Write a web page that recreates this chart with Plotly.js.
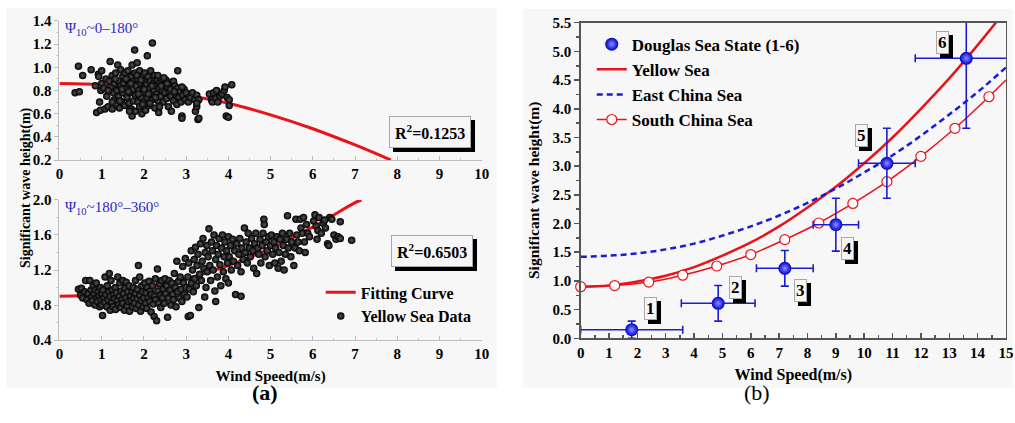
<!DOCTYPE html>
<html>
<head>
<meta charset="utf-8">
<script src="https://cdn.plot.ly/plotly-3.0.1.min.js"></script>
<style>html,body{margin:0;padding:0;background:#fff;}#chart{width:1015px;height:423px;}</style>
</head>
<body>
<div id="chart"></div>
<script>
// ---------- DATA ----------
// (a) top: Psi10 ~ 0-180 deg, Yellow Sea data [wind speed, Hs]
const topData = [
[0.37,0.78],[0.47,0.79],[0.45,1.01],[0.55,0.93],[0.75,0.98],
[0.85,0.84],[0.88,0.61],[0.92,0.94],[0.95,0.70],[0.97,0.63],[1.0,0.86],[1.0,0.97],[0.98,0.80],[0.93,0.92],
[1.05,0.82],[1.08,0.64],[1.1,0.90],[1.12,0.75],[1.15,0.66],[1.18,0.88],[1.2,1.05],[1.22,0.83],[1.25,0.64],[1.25,0.93],
[1.28,0.78],[1.3,0.86],[1.3,0.72],[1.33,0.95],[1.35,0.68],[1.36,0.80],[1.38,1.02],[1.4,0.88],[1.4,0.75],[1.42,0.65],
[1.45,0.98],[1.45,0.84],[1.47,0.70],[1.5,0.92],[1.5,0.78],[1.52,0.86],
[1.55,0.67],[1.55,0.95],[1.58,0.82],[1.6,0.74],[1.6,0.89],[1.62,0.97],[1.65,0.69],[1.65,0.85],[1.68,0.78],[1.7,0.92],
[1.7,0.64],[1.72,0.58],[1.72,1.02],[1.74,0.81],[1.75,0.71],[1.76,0.88],[1.78,1.15],[1.78,0.95],[1.8,0.76],[1.8,0.62],
[1.82,0.84],[1.84,1.04],[1.85,0.90],[1.86,0.70],[1.88,0.80],[1.9,0.97],[1.9,0.66],[1.92,0.86],[1.94,0.74],[1.95,0.60],
[1.96,0.92],[1.98,0.82],
[2.0,0.70],[2.0,0.88],[2.02,0.95],[2.04,0.63],[2.05,0.78],[2.06,0.85],[2.08,1.10],[2.08,0.74],[2.1,0.92],[2.12,0.67],
[2.13,0.82],[2.15,0.88],[2.16,0.97],[2.18,0.76],[2.2,1.21],[2.2,0.72],[2.22,0.86],[2.24,0.80],[2.25,0.93],[2.26,0.65],
[2.28,0.84],[2.3,0.77],[2.32,0.89],[2.34,0.71],[2.35,0.61],[2.36,0.82],[2.38,0.87],[2.4,0.75],[2.42,0.90],[2.44,0.80],
[2.46,0.70],[2.48,0.85],[2.5,0.78],
[2.52,0.89],[2.54,0.73],[2.56,0.83],[2.58,0.66],[2.6,0.79],[2.62,0.87],[2.64,0.75],[2.65,0.62],[2.67,0.81],[2.7,0.88],
[2.7,0.71],[2.73,0.84],[2.75,0.77],[2.78,0.68],[2.8,0.97],[2.8,0.82],[2.83,0.74],[2.85,0.79],[2.88,0.70],[2.9,0.58],
[2.9,0.56],[2.92,0.76],[2.95,0.81],[2.98,0.72],[3.0,0.78],
[3.05,0.70],[3.1,0.74],[3.15,0.78],[3.2,0.72],[3.22,0.62],[3.25,0.66],[3.25,0.76],[3.28,0.55],[3.3,0.56],[3.3,0.72],[3.25,0.69],
[3.55,0.77],[3.6,0.72],[3.62,0.70],[3.65,0.78],[3.7,0.73],[3.72,0.80],[3.75,0.70],[3.8,0.75],[3.85,0.77],[3.9,0.80],
[3.92,0.83],[3.95,0.58],[3.97,0.74],[4.0,0.57],[4.02,0.67],[4.02,0.72],[4.08,0.85],
[1.15,0.80],[1.32,0.90],[1.48,0.81],[1.58,0.90],[1.63,0.79],[1.69,0.86],[1.83,0.93],[1.87,0.77],[1.93,0.89],[2.01,0.81],
[2.11,0.77],[2.19,0.84],[2.27,0.74],[2.33,0.93],[2.41,0.84],[2.47,0.91],[2.55,0.86],[2.63,0.81],[2.72,0.79],[2.9,0.83],
[1.43,0.71],[1.66,0.62],[1.97,0.68],[2.14,0.69],[2.37,0.66],[1.25,0.70]
];
// (a) bottom: Psi10 ~ 180-360 deg
const botData = [
[0.45,0.98],[0.5,0.91],[0.52,0.99],[0.55,0.88],[0.6,0.95],[0.62,1.08],[0.65,0.86],[0.68,0.93],[0.7,0.82],[0.72,1.08],
[0.75,0.97],[0.76,0.89],[0.78,0.85],[0.8,1.02],[0.82,0.93],[0.84,0.80],[0.85,0.97],[0.87,1.05],[0.88,0.88],[0.9,0.84],
[0.92,0.95],[0.94,0.90],[0.95,0.78],[0.97,1.0],[0.98,0.86],[1.0,0.93],[1.0,0.80],
[1.02,0.68],[1.03,0.97],[1.05,0.88],[1.07,0.83],[1.08,1.12],[1.1,0.92],[1.12,0.78],[1.13,1.02],[1.15,0.86],[1.17,0.95],
[1.18,1.16],[1.2,0.74],[1.2,0.90],[1.22,1.08],[1.24,0.83],[1.25,0.97],[1.27,0.78],[1.28,0.92],[1.3,0.87],[1.32,1.0],
[1.33,0.75],[1.35,0.94],[1.37,0.85],[1.38,1.12],[1.4,0.80],[1.42,0.90],[1.43,1.05],[1.45,0.77],[1.46,0.96],[1.48,0.86],
[1.5,1.08],[1.5,0.82],[1.52,0.93],[1.54,0.74],[1.55,0.99],[1.57,0.88],[1.58,1.06],[1.6,0.79],[1.62,0.95],[1.63,0.84],
[1.65,1.02],[1.66,0.73],[1.68,0.90],[1.7,0.85],[1.72,0.96],[1.73,0.78],[1.75,1.0],[1.76,0.88],[1.78,0.82],[1.8,0.93],
[1.8,1.08],[1.82,0.76],[1.84,0.87],[1.85,0.98],[1.87,1.25],[1.88,0.80],[1.9,0.91],[1.9,1.12],[1.92,0.73],[1.94,0.85],
[1.95,1.02],[1.97,0.95],[1.98,0.78],[2.0,0.88],
[2.02,1.05],[2.04,0.82],[2.05,0.94],[2.07,0.76],[2.08,1.0],[2.1,0.88],[2.12,1.07],[2.14,0.84],[2.15,0.96],[2.17,0.72],
[2.18,0.92],[2.2,1.02],[2.22,0.81],[2.24,0.67],[2.25,0.90],[2.27,1.1],[2.28,0.86],[2.3,0.62],[2.32,1.21],[2.33,0.96],
[2.35,0.82],[2.37,1.04],[2.39,0.91],[2.4,0.77],[2.42,1.08],[2.44,0.88],[2.46,0.98],[2.48,0.82],[2.5,1.1],[2.52,0.93],
[2.54,1.02],[2.56,0.66],[2.58,0.88],[2.6,1.08],[2.62,0.97],[2.64,0.80],[2.66,1.05],[2.68,0.92],[2.7,0.86],[2.72,1.16],
[2.74,1.0],[2.76,0.78],[2.78,1.3],[2.8,0.95],[2.82,1.07],[2.84,0.88],[2.86,1.12],[2.88,0.98],[2.9,0.84],[2.92,1.24],
[2.94,1.05],[2.96,0.92],[2.98,1.33],[3.0,1.0],
[3.02,0.89],[3.04,1.12],[3.05,0.67],[3.06,1.28],[3.08,0.98],[3.1,0.68],[3.12,1.42],[3.13,1.05],[3.15,1.2],[3.17,0.95],
[3.19,1.32],[3.2,1.1],[3.22,1.46],[3.24,1.02],[3.26,1.25],[3.28,1.38],[3.3,0.77],[3.32,1.15],[3.34,1.5],[3.36,1.08],
[3.38,1.3],[3.4,1.56],[3.42,1.22],[3.44,0.89],[3.45,1.4],[3.47,1.0],[3.49,1.48],[3.5,1.18],[3.52,1.35],[3.54,1.67],
[3.56,1.25],[3.58,1.08],[3.6,1.52],[3.62,1.42],[3.64,1.2],[3.66,1.6],[3.68,0.96],[3.7,1.32],[3.7,0.84],[3.72,1.48],
[3.74,1.12],[3.76,1.38],[3.78,1.56],[3.8,1.26],[3.82,1.02],[3.84,1.45],[3.86,1.6],[3.88,1.18],[3.9,1.35],[3.92,1.52],
[3.94,1.1],[3.96,1.42],[3.98,1.28],[4.0,1.58],[4.0,1.05],
[4.02,1.35],[4.05,1.48],[4.07,1.2],[4.1,1.55],[4.12,1.3],[4.15,1.42],[4.17,0.92],[4.2,1.5],[4.22,1.25],[4.25,1.38],
[4.27,1.56],[4.3,0.9],[4.3,1.18],[4.32,1.45],[4.35,1.32],[4.38,1.68],[4.4,1.4],[4.42,1.52],[4.45,1.28],[4.47,1.62],
[4.5,1.45],[4.52,1.35],[4.55,1.56],[4.58,1.42],[4.6,1.22],[4.62,1.5],[4.65,1.62],[4.67,1.16],[4.7,1.45],[4.72,1.38],
[4.75,1.55],[4.77,1.28],[4.8,1.48],[4.82,1.62],[4.84,1.78],[4.85,1.72],[4.87,1.35],[4.9,1.52],[4.92,1.42],[4.95,1.58],
[4.97,1.25],[5.0,1.48],
[5.02,1.6],[5.05,1.38],[5.08,1.52],[5.1,1.28],[5.12,1.45],[5.15,1.58],[5.18,1.22],[5.2,1.4],[5.22,1.55],[5.25,1.3],
[5.28,1.62],[5.3,1.48],[5.32,1.2],[5.35,1.38],[5.38,1.55],[5.4,1.82],[5.42,1.45],[5.45,1.62],[5.48,1.35],[5.5,1.52],
[5.55,1.25],[5.58,1.45],[5.6,1.78],[5.62,1.6],[5.65,1.52],[5.68,1.42],[5.7,1.78],[5.72,1.68],[5.75,1.62],[5.78,1.8],
[5.8,1.52],[5.82,1.4],[5.85,1.72],[5.88,1.62],[5.92,1.58],
[6.02,1.76],[6.05,1.83],[6.08,1.7],[6.1,1.55],[6.12,1.65],[6.15,1.8],[6.2,1.62],[6.25,1.73],[6.3,1.68],[6.35,1.5],
[6.38,1.48],[6.4,1.8],[6.45,1.78],[6.5,1.6],[6.55,1.55],[6.6,1.58],[6.65,1.75],[6.65,1.56],[6.92,1.54],[6.28,1.77]
];
// fitting curves (a)
const fitTopX = [0,1,2,3,4,5,6,7,7.85];
const fitTopY = [0.86,0.85,0.82,0.76,0.69,0.59,0.47,0.33,0.2];
const fitBotX = [0,1,2,3,4,5,6,7,7.15];
const fitBotY = [0.90,0.92,0.99,1.10,1.25,1.45,1.69,1.97,2.0];
const r2Top = "0.1253", r2Bot = "0.6503";

// (b)
const curveX = [0,1,2,3,4,5,6,7,8,9,10,11,12,13,14,15];
const yellowSea = [0.90,0.92,0.99,1.09,1.24,1.44,1.67,1.95,2.28,2.64,3.05,3.50,4.00,4.53,5.11,5.72];
const eastChinaSea = [1.42,1.44,1.48,1.55,1.65,1.79,1.95,2.14,2.36,2.61,2.89,3.19,3.53,3.90,4.29,4.72];
const southX = [0,1.2,2.4,3.6,4.8,6.0,7.2,8.4,9.6,10.8,12.0,13.2,14.4];
const southY = [0.90,0.92,0.98,1.10,1.26,1.46,1.72,2.01,2.35,2.73,3.17,3.66,4.21];
const southEndX = [14.4,15], southEndY = [4.21,4.50];
const douglasState = ["1","2","3","4","5","6"];
const douglasX = [1.8,4.85,7.2,9.0,10.8,13.6];
const douglasY = [0.15,0.61,1.22,1.98,3.05,4.88];
const douglasXErr = [1.8,1.3,1.0,0.8,1.0,1.8];
const douglasYErr = [0.15,0.31,0.31,0.46,0.61,1.22];
const labelX = [2.48,5.45,7.74,9.41,9.89,12.77];
const labelY = [0.52,0.89,0.84,1.57,3.53,5.16];

// ---------- STYLE ----------
const SERIF = '"Liberation Serif","Times New Roman",serif';
const RED = '#e8141b', BLUE = '#1c1cd6';
const tickFont = {family: SERIF, size: 15, color: '#000', weight: 700};
const BOLD = {tickprefix: '<b>', ticksuffix: '</b>'};

const traces = [];
// top-left
traces.push({x: fitTopX, y: fitTopY, xaxis: 'x', yaxis: 'y', mode: 'lines', line: {color: RED, width: 3, shape: 'spline'}, showlegend: false, hoverinfo: 'skip'});
traces.push({x: topData.map(d => d[0]), y: topData.map(d => d[1]), xaxis: 'x', yaxis: 'y', mode: 'markers', type: 'scatter',
  marker: {color: '#000', size: 7.5, gradient: {type: 'radial', color: '#575757'}, line: {width: 0}}, showlegend: false});
// bottom-left
traces.push({x: fitBotX, y: fitBotY, xaxis: 'x2', yaxis: 'y2', mode: 'lines', name: 'Fitting Curve', legend: 'legend2', legendrank: 1,
  line: {color: RED, width: 3, shape: 'spline'}});
traces.push({x: botData.map(d => d[0]), y: botData.map(d => d[1]), xaxis: 'x2', yaxis: 'y2', mode: 'markers', name: 'Yellow Sea Data', legend: 'legend2', legendrank: 2,
  marker: {color: '#000', size: 7.5, gradient: {type: 'radial', color: '#575757'}, line: {width: 0}}});
// right
traces.push({x: curveX, y: yellowSea, xaxis: 'x3', yaxis: 'y3', mode: 'lines', name: 'Yellow Sea', legendrank: 2,
  line: {color: RED, width: 2.5, shape: 'spline'}});
traces.push({x: curveX, y: eastChinaSea, xaxis: 'x3', yaxis: 'y3', mode: 'lines', name: 'East China Sea', legendrank: 3,
  line: {color: BLUE, width: 2.5, dash: '6px,4px', shape: 'spline'}});
traces.push({x: southEndX, y: southEndY, xaxis: 'x3', yaxis: 'y3', mode: 'lines', showlegend: false,
  line: {color: RED, width: 1.5}});
traces.push({x: southX, y: southY, xaxis: 'x3', yaxis: 'y3', mode: 'lines+markers', name: 'South China Sea', legendrank: 4, cliponaxis: false,
  line: {color: RED, width: 1.5, shape: 'spline'}, marker: {symbol: 'circle', size: 10, color: '#fff', line: {color: RED, width: 1.2}}});
traces.push({x: douglasX, y: douglasY, text: douglasState, xaxis: 'x3', yaxis: 'y3', mode: 'markers', name: 'Douglas Sea State (1-6)', legendrank: 1,
  marker: {color: '#0000c8', size: 13, gradient: {type: 'radial', color: '#8c8cff'}, line: {width: 0}},
  error_x: {type: 'data', array: douglasXErr, color: BLUE, thickness: 1.6, width: 4},
  error_y: {type: 'data', array: douglasYErr, color: BLUE, thickness: 1.6, width: 4},
  cliponaxis: true});

function leftX(anchor, showTitle) {
  return Object.assign({domain: [0.0586, 0.4746], range: [0, 10], anchor: anchor, dtick: 1, tick0: 0,
    showline: true, linecolor: '#bdbdbd', linewidth: 1, ticks: 'inside', ticklen: 4, tickcolor: '#bdbdbd',
    minor: {ticks: 'inside', ticklen: 2, dtick: 0.5, tickcolor: '#cfcfcf'},
    showgrid: false, zeroline: false, tickfont: tickFont,
    title: showTitle ? {text: '<b>Wind Speed(m/s)</b>', font: {family: SERIF, size: 15, color: '#000'}, standoff: 9} : {text: ''}}, BOLD);
}
function leftY(anchor, dom, rng, dt) {
  return Object.assign({domain: dom, range: rng, anchor: anchor, dtick: dt, tickformat: '.1f',
    showline: true, linecolor: '#bdbdbd', linewidth: 1, ticks: 'outside', ticklen: 4, tickcolor: '#bdbdbd',
    minor: {ticks: 'outside', ticklen: 2, dtick: dt / 2, tickcolor: '#cfcfcf'},
    showgrid: false, zeroline: false, tickfont: tickFont}, BOLD);
}

const annotations = [];
function shadowBox(text, xref, yref, x, y, size, pad) {
  annotations.push({text: text, xref: xref, yref: yref, x: x, y: y, showarrow: false, xshift: 4, yshift: -4,
    font: {family: SERIF, size: size, color: '#000', weight: 700}, bgcolor: '#000', bordercolor: '#000', borderwidth: 1, borderpad: pad});
  annotations.push({text: text, xref: xref, yref: yref, x: x, y: y, showarrow: false,
    font: {family: SERIF, size: size, color: '#000', weight: 700}, bgcolor: '#f6f6f6', bordercolor: '#a8a8a8', borderwidth: 1, borderpad: pad});
}
shadowBox('R<sup>2</sup>=' + r2Top, 'x', 'y', 8.78, 0.44, 16, 5);
shadowBox('R<sup>2</sup>=' + r2Bot, 'x2', 'y2', 8.83, 1.417, 16, 5);
for (let i = 0; i < douglasState.length; i++) shadowBox(douglasState[i], 'x3', 'y3', labelX[i], labelY[i], 17, 1);

annotations.push({text: 'Ψ<sub>10</sub>~0–180°', xref: 'x domain', yref: 'y domain', x: 0.008, y: 1.02, xanchor: 'left', yanchor: 'top', showarrow: false,
  font: {family: SERIF, size: 15, color: '#2a2ac4'}});
annotations.push({text: 'Ψ<sub>10</sub>~180°–360°', xref: 'x2 domain', yref: 'y2 domain', x: 0.008, y: 1.02, xanchor: 'left', yanchor: 'top', showarrow: false,
  font: {family: SERIF, size: 15, color: '#2a2ac4'}});
annotations.push({text: '<b>Significant wave height(m)</b>', xref: 'paper', yref: 'paper', x: 16 / 1015, y: 1 - 188 / 423, textangle: -90, showarrow: false,
  font: {family: SERIF, size: 14, color: '#000'}});
annotations.push({text: '<b>Significant wave height(m)</b>', xref: 'paper', yref: 'paper', x: 534 / 1015, y: 1 - 191 / 423, textangle: -90, showarrow: false,
  font: {family: SERIF, size: 15.5, color: '#000'}});
annotations.push({text: '<b>(a)</b>', xref: 'paper', yref: 'paper', x: 250 / 1015, y: 1 - 407 / 423, showarrow: false,
  font: {family: SERIF, size: 22, color: '#000'}});
annotations.push({text: '(b)', xref: 'paper', yref: 'paper', x: 772 / 1015, y: 1 - 407 / 423, showarrow: false,
  font: {family: SERIF, size: 22, color: '#000'}});

const layout = {
  width: 1015, height: 423, margin: {l: 0, r: 0, t: 0, b: 0},
  paper_bgcolor: '#ffffff', plot_bgcolor: 'rgba(0,0,0,0)',
  font: {family: SERIF, color: '#000'},
  xaxis: leftX('y', false),
  yaxis: leftY('x', [0.6217, 0.9504], [0.2, 1.4], 0.2),
  xaxis2: leftX('y2', true),
  yaxis2: leftY('x2', [0.1962, 0.5272], [0.4, 2.0], 0.4),
  xaxis3: Object.assign({domain: [0.5721, 0.9911], range: [0, 15], anchor: 'y3', dtick: 1, tick0: 0,
    showline: true, mirror: true, linecolor: '#555', linewidth: 1.5, ticks: 'inside', ticklen: 5, tickcolor: '#555', tickwidth: 1.5,
    minor: {ticks: 'inside', ticklen: 3, dtick: 0.5, tickcolor: '#555'},
    showgrid: false, zeroline: false, tickfont: tickFont,
    title: {text: '<b>Wind Speed(m/s)</b>', font: {family: SERIF, size: 16, color: '#000'}, standoff: 9}}, BOLD),
  yaxis3: Object.assign({domain: [0.2002, 0.9463], range: [0, 5.5], anchor: 'x3', dtick: 0.5, tickformat: '.1f',
    showline: true, mirror: true, linecolor: '#555', linewidth: 1.5, ticks: 'outside', ticklen: 5, tickcolor: '#555', tickwidth: 1.5,
    minor: {ticks: 'outside', ticklen: 3, dtick: 0.25, tickcolor: '#555'},
    showgrid: false, zeroline: false, tickfont: tickFont}, BOLD),
  showlegend: true,
  legend: {x: 0.583, y: 0.937, xanchor: 'left', yanchor: 'top', bgcolor: 'rgba(0,0,0,0)', borderwidth: 0,
    font: {family: SERIF, size: 17, color: '#000', weight: 700}, tracegroupgap: 0, itemwidth: 30},
  legend2: {x: 0.316, y: 0.349, xanchor: 'left', yanchor: 'top', bgcolor: 'rgba(0,0,0,0)', borderwidth: 0,
    font: {family: SERIF, size: 16, color: '#000', weight: 700}, tracegroupgap: 0, itemwidth: 30},
  shapes: [
    {type: 'rect', xref: 'paper', yref: 'paper', x0: 6 / 1015, x1: 497 / 1015, y0: 1 - 388 / 423, y1: 1 - 8 / 423, fillcolor: '#f7f7f7', line: {width: 0}, layer: 'below'},
    {type: 'rect', xref: 'paper', yref: 'paper', x0: 523 / 1015, x1: 1013 / 1015, y0: 1 - 388 / 423, y1: 1 - 9 / 423, fillcolor: '#f7f7f7', line: {width: 0}, layer: 'below'}
  ],
  annotations: annotations
};

Plotly.newPlot('chart', traces, layout, {staticPlot: true, displayModeBar: false});
</script>
</body>
</html>
